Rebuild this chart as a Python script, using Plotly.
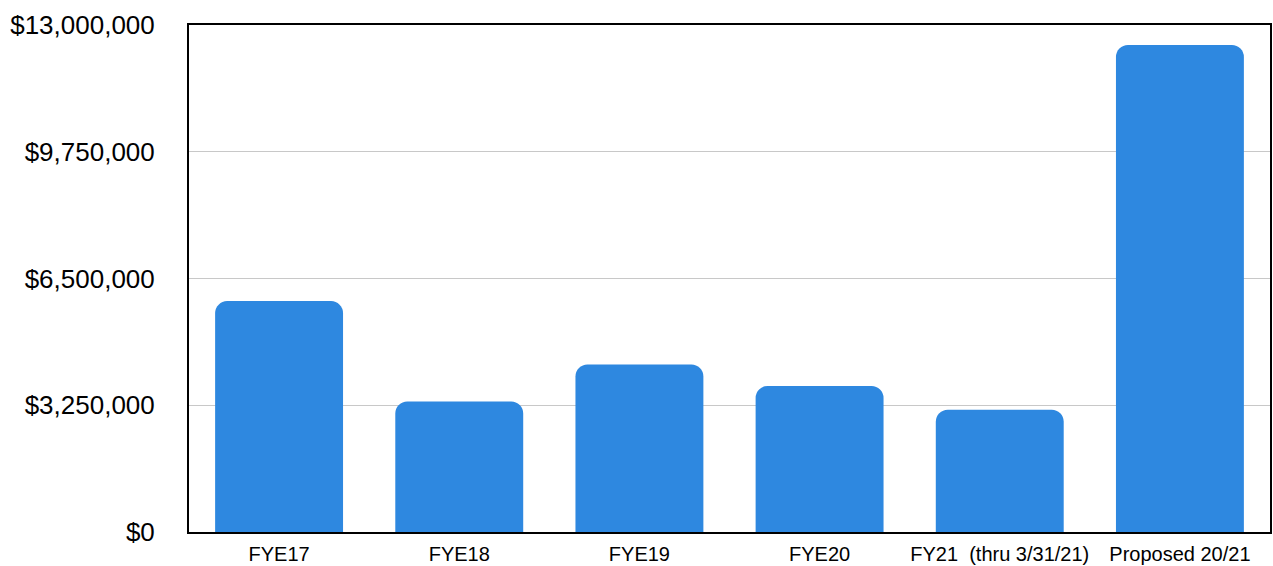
import plotly.graph_objects as go

categories = ["FYE17", "FYE18", "FYE19", "FYE20", "FY21  (thru 3/31/21)", "Proposed 20/21"]
values = [5920000, 3345000, 4295000, 3745000, 3135000, 12485000]
tick_vals = [0, 3250000, 6500000, 9750000, 13000000]
tick_text = ["$0", "$3,250,000", "$6,500,000", "$9,750,000", "$13,000,000"]

fig = go.Figure()
fig.add_trace(go.Bar(
    x=categories, y=values,
    marker=dict(color="#2E88E0", line=dict(width=0)),
    hoverinfo="x+y",
))

font_family = "Liberation Sans, Arial, Helvetica, sans-serif"
fig.update_layout(
    width=1273, height=566,
    margin=dict(l=189, r=1, t=25, b=29, pad=0),
    paper_bgcolor="white", plot_bgcolor="white",
    bargap=0.29, barcornerradius=12,
    showlegend=False,
    font=dict(family=font_family, color="black"),
)
fig.update_xaxes(
    showline=True, linecolor="black", linewidth=2, mirror=True,
    showgrid=False, ticks="", tickfont=dict(size=20, family=font_family, color="black"),
    ticklabelstandoff=3,
)
fig.update_yaxes(
    range=[0, 13000000], tickvals=tick_vals, ticktext=tick_text,
    showline=True, linecolor="black", linewidth=2, mirror=True,
    showgrid=True, gridcolor="#C8C8C8", gridwidth=1,
    zeroline=False, ticks="",
    tickfont=dict(size=26, family=font_family, color="black"),
    ticklabelstandoff=27,
)
fig.write_html("out.html")
